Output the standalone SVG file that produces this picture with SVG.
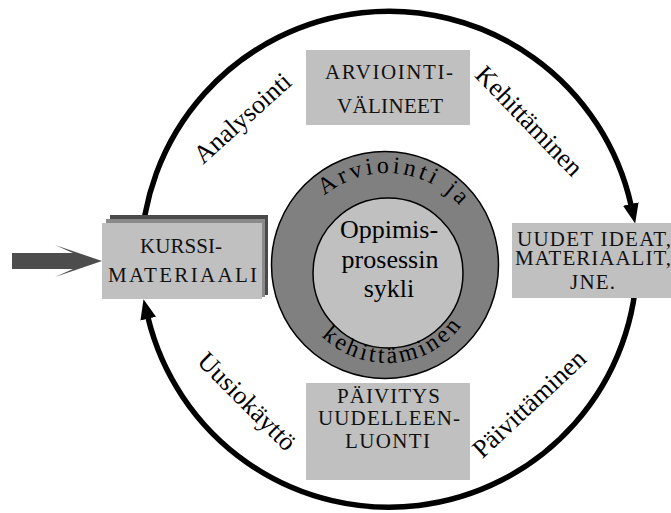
<svg xmlns="http://www.w3.org/2000/svg" width="671" height="513" viewBox="0 0 671 513">
<defs>
<style>
.box{fill:#c0c0c0}
.bt{font-family:"Liberation Serif","Times New Roman",serif;font-size:21px;text-anchor:middle;fill:#111}
.lbl{font-family:"Liberation Serif","Times New Roman",serif;font-size:26px;text-anchor:middle;fill:#000}
.ct{font-family:"Liberation Serif","Times New Roman",serif;font-size:26px;text-anchor:middle;fill:#000}
.rt{font-family:"Liberation Serif","Times New Roman",serif;font-size:24px;fill:#000;letter-spacing:3.5px}
</style>
<marker id="ah" markerUnits="userSpaceOnUse" markerWidth="20" markerHeight="16" viewBox="0 0 20 16" refX="1" refY="8" orient="auto"><path d="M0,0 L20,8 L0,16 Z" fill="#000"/></marker>
<path id="topArc" d="M290,270 A97,97 0 0 1 484,270"/>
<path id="botArc" d="M294,270 A93,93 0 0 0 480,270"/>
</defs>
<rect width="671" height="513" fill="#fff"/>
<g id="connectors">
<path d="M141,259 A248,248 0 0 1 631,205" fill="none" stroke="#000" stroke-width="5.5" marker-end="url(#ah)"/>
<path d="M637,259 A248,248 0 0 1 148,317.7" fill="none" stroke="#000" stroke-width="5.5" marker-end="url(#ah)"/>
<polygon points="12,253 73,253 55,245 102,261 55,277 73,269 12,269" fill="#4d4d4d"/>
</g>
<g id="labels">
<text class="lbl" transform="translate(248,124.5) rotate(-42)">Analysointi</text>
<text class="lbl" transform="translate(523,127) rotate(46)">Kehittäminen</text>
<text class="lbl" transform="translate(241,407.5) rotate(45)">Uusiokäyttö</text>
<text class="lbl" transform="translate(535,410) rotate(-43)">Päivittäminen</text>
</g>
<g id="kurssi">
<rect x="110" y="215" width="158" height="80" fill="#4a4a4a"/>
<rect x="106" y="219" width="159" height="78" fill="#8a8a8a"/>
<rect class="box" x="102" y="223" width="160" height="76"/>
<text class="bt" x="181" y="253" textLength="82">KURSSI-</text>
<text class="bt" x="182.5" y="282" textLength="149">MATERIAALI</text>
</g>
<g id="arviointivalineet">
<rect class="box" x="306" y="50" width="164" height="75"/>
<text class="bt" x="389" y="79" textLength="128">ARVIOINTI-</text>
<text class="bt" x="390" y="113" textLength="106">VÄLINEET</text>
</g>
<g id="uudet">
<rect class="box" x="512" y="223" width="160" height="75"/>
<text class="bt" x="594" y="245.5" textLength="154">UUDET IDEAT,</text>
<text class="bt" x="593" y="265" textLength="156">MATERIAALIT,</text>
<text class="bt" x="592.5" y="288.5" textLength="45">JNE.</text>
</g>
<g id="paivitys">
<rect class="box" x="306" y="383" width="164" height="97"/>
<text class="bt" x="388.5" y="403" textLength="103">PÄIVITYS</text>
<text class="bt" x="389" y="425" textLength="142">UUDELLEEN-</text>
<text class="bt" x="387.5" y="448" textLength="85">LUONTI</text>
</g>
<g id="sykli">
<circle cx="385" cy="265" r="113.5" fill="#808080" stroke="#000" stroke-width="1.5"/>
<circle cx="388" cy="273" r="75" fill="#c0c0c0" stroke="#000" stroke-width="1.5"/>
<text class="rt" text-anchor="middle"><textPath href="#topArc" startOffset="52.8%">Arviointi ja</textPath></text>
<text class="rt" text-anchor="middle" style="letter-spacing:3px"><textPath href="#botArc" startOffset="52.8%">kehittäminen</textPath></text>
<text class="ct" x="389" y="238">Oppimis-</text>
<text class="ct" x="390" y="268">prosessin</text>
<text class="ct" x="389" y="297">sykli</text>
</g>
</svg>
